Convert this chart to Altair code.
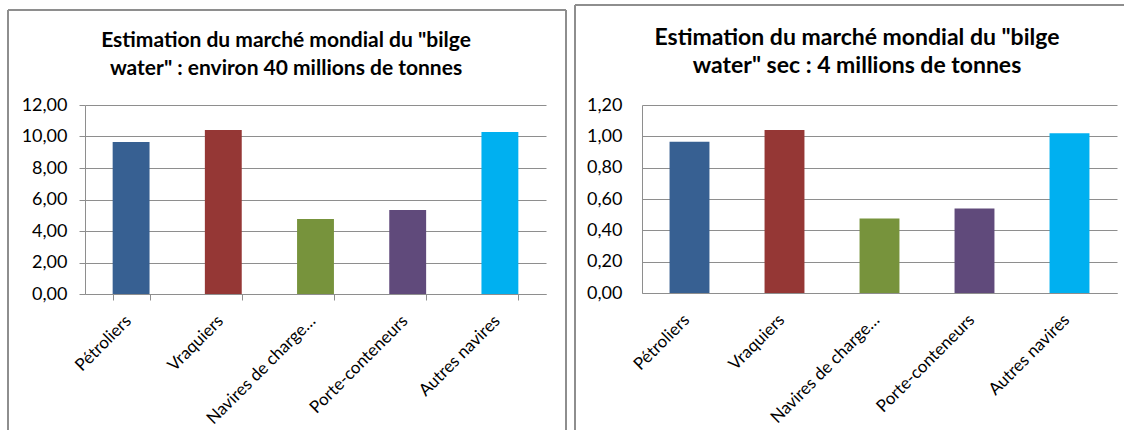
import altair as alt
import pandas as pd

categories = ["Pétroliers", "Vraquiers", "Navires de charge…", "Porte-conteneurs", "Autres navires"]
values_total = [9.65, 10.41, 4.76, 5.33, 10.29]
values_dry = [0.965, 1.04, 0.476, 0.54, 1.02]
colors = ["#376092", "#953735", "#77933C", "#604A7B", "#00B0F0"]
title_total = ['Estimation du marché mondial du "bilge', 'water" : environ 40 millions de tonnes']
title_dry = ['Estimation du marché mondial du "bilge', 'water" sec : 4 millions de tonnes']
ticks_total = [0, 2, 4, 6, 8, 10, 12]
ticks_dry = [0, 0.2, 0.4, 0.6, 0.8, 1.0, 1.2]

GRAY = "#8E8E8E"
FONT = "Lato"
fmt = "replace(format(datum.value, '.2f'), '.', ',')"


def panel(values, ticks, title_lines, width, height, pad_inner, show_ticks,
          y_label_pad, title_x, title_y, title_size, border, right_side):
    df = pd.DataFrame({"cat": categories, "val": values})
    tick_size = 6 if show_ticks else 0
    bars = alt.Chart(df).mark_bar().encode(
        x=alt.X(
            "cat:N", sort=categories,
            scale=alt.Scale(paddingInner=pad_inner, paddingOuter=pad_inner / 2),
            axis=alt.Axis(title=None, labelAngle=-45, labelAlign="right",
                          labelBaseline="middle", labelPadding=24 - tick_size,
                          labelOffset=-3, labelFontSize=17,
                          ticks=show_ticks, tickSize=tick_size, tickBand="extent",
                          domainColor=GRAY, tickColor=GRAY),
        ),
        y=alt.Y(
            "val:Q",
            scale=alt.Scale(domain=[ticks[0], ticks[-1]], nice=False),
            axis=alt.Axis(title=None, values=ticks, labelExpr=fmt, grid=True,
                          gridColor=GRAY, domainColor=GRAY, tickColor=GRAY,
                          ticks=show_ticks, tickSize=tick_size,
                          labelFontSize=18, labelPadding=y_label_pad),
        ),
        color=alt.Color("cat:N", sort=categories,
                        scale=alt.Scale(domain=categories, range=colors), legend=None),
    )
    deco = alt.Data(values=[{"k": 0}])
    layers = [bars]
    left, top, right, bottom = border
    layers.append(alt.Chart(deco).mark_rule(color=GRAY, strokeWidth=2).encode(
        x=alt.value(left), y=alt.value(top), y2=alt.value(bottom)))
    layers.append(alt.Chart(deco).mark_rule(color=GRAY, strokeWidth=2).encode(
        x=alt.value(left), x2=alt.value(right), y=alt.value(top)))
    if right_side:
        layers.append(alt.Chart(deco).mark_rule(color=GRAY, strokeWidth=2).encode(
            x=alt.value(right), y=alt.value(top), y2=alt.value(bottom)))
    layers.append(alt.Chart(deco).mark_text(
        font=FONT, fontSize=title_size, fontWeight="bold", align="center",
        baseline="alphabetic", lineHeight=28, color="black").encode(
        x=alt.value(title_x), y=alt.value(title_y), text=alt.value(title_lines)))
    return alt.layer(*layers).properties(width=width, height=height)


left_chart = panel(values_total, ticks_total, title_total, 461, 189, 0.6, True,
                   12, 201, -58, 21, (-77, -95, 481, 325), True)
right_chart = panel(values_dry, ticks_dry, title_dry, 475, 188, 0.58, False,
                    20, 215, -60, 23, (-67, -100, 482, 325), False)

chart = alt.hconcat(left_chart, right_chart, spacing=7).properties(
    padding={"left": 7, "top": 4, "right": 0, "bottom": 0},
    background="white",
).configure_view(stroke=None).configure_axis(
    labelFont=FONT, labelFontSize=18, labelColor="black",
)

chart.save("out.html", embed_options={"renderer": "svg", "actions": False})
